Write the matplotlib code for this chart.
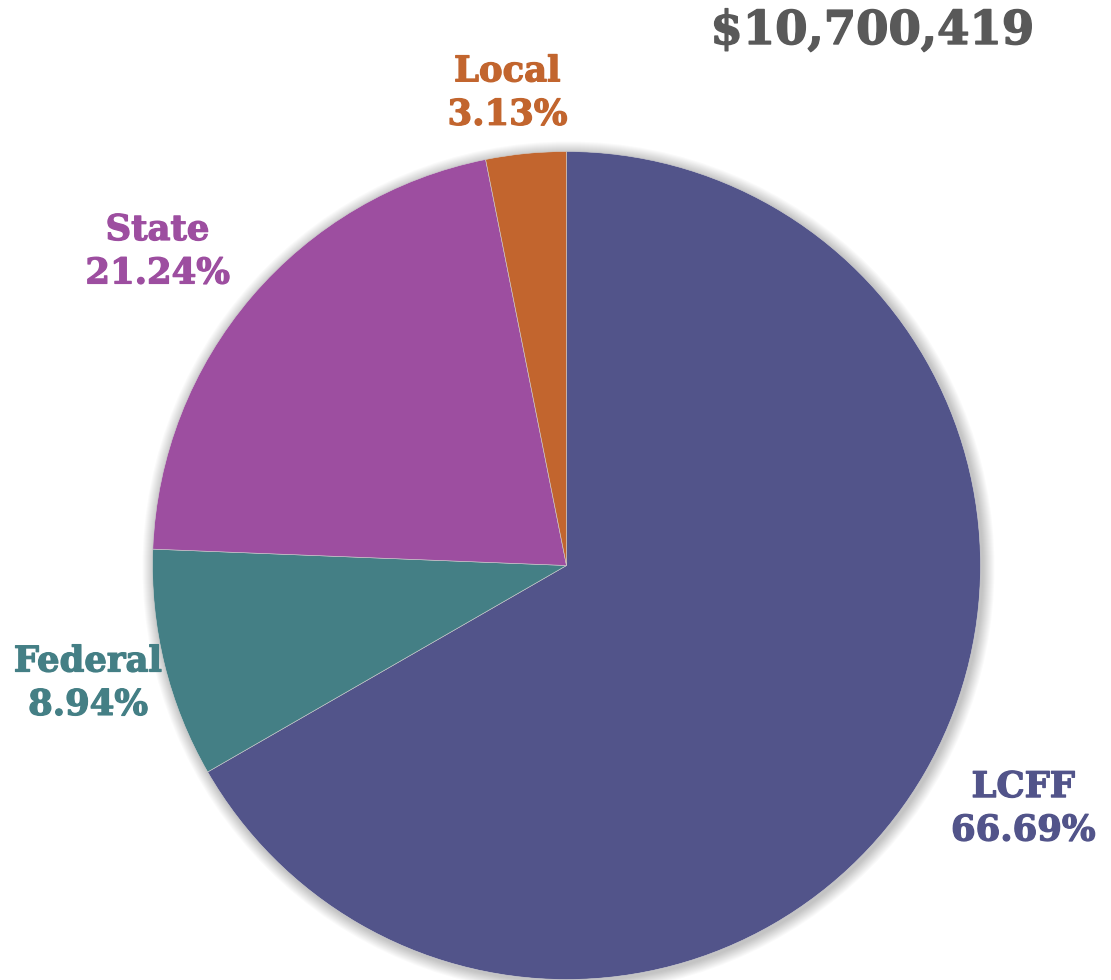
import matplotlib

matplotlib.use('Agg')
import matplotlib.pyplot as plt
import matplotlib.patheffects as pe
import numpy as np
from matplotlib.patches import Circle

# data
labels = ["LCFF", "Federal", "State", "Local"]
shares = [66.69, 8.94, 21.24, 3.13]
colors = ['#52548A', '#447F85', '#9D4EA0', '#C2652E']
total_str = "$10,700,419"

W, H = 1111, 980
fig = plt.figure(figsize=(W / 100, H / 100), dpi=100, facecolor='white')
ax = fig.add_axes([0, 0, 1, 1])
ax.set_xlim(0, W)
ax.set_ylim(0, H)
ax.set_aspect('equal')
ax.set_axis_off()

cx, cy, R = 566.5, H - 565.5, 414

# soft shadow round the pie
for i in range(12):
    ax.add_patch(Circle((cx + 2, cy - 2), R + 1 + i, facecolor='#000000',
                        alpha=0.02, edgecolor='none', zorder=0))
ax.add_patch(Circle((cx, cy), R, facecolor='white', edgecolor='none', zorder=0.5))

wedges, _ = ax.pie(shares, colors=colors, startangle=90, counterclock=False,
                   center=(cx, cy), radius=R, frame=True,
                   wedgeprops=dict(linewidth=0.4, edgecolor='#cccccc'))
ax.set_xlim(0, W)
ax.set_ylim(0, H)
ax.set_axis_off()

# label distances (fraction of radius) for each slice
label_dist = [1.25, 1.19, 1.245, 1.15]
label_shift = [2, 0, 3, 1.5]
for w, lab, val, col, d, s in zip(wedges, labels, shares, colors, label_dist, label_shift):
    ang = np.deg2rad((w.theta1 + w.theta2) / 2 + s)
    x = cx + d * R * np.cos(ang)
    y = cy + d * R * np.sin(ang)
    ax.text(x, y, f"{lab}\n{val:.2f}%", ha='center', va='center', color=col,
            fontsize=25.5, fontweight='bold', family='DejaVu Serif',
            linespacing=1.35,
            path_effects=[pe.withStroke(linewidth=0.9, foreground=col)])

ax.text(872, H - 31, total_str, ha='center', va='center', color='#595959',
        fontsize=33.5, fontweight='bold', family='DejaVu Serif',
        path_effects=[pe.withStroke(linewidth=1.0, foreground='#595959')])

fig.savefig('out.png', dpi=100, facecolor='white')
